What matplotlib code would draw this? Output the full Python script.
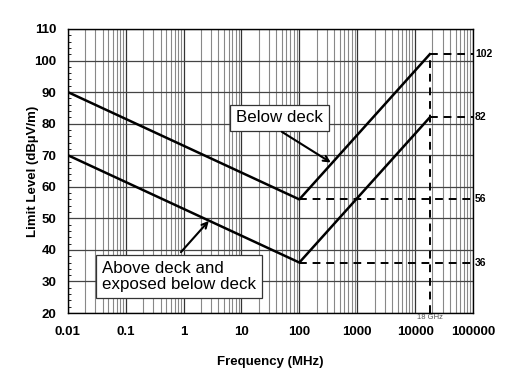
import numpy as np
import matplotlib.pyplot as plt
from matplotlib.ticker import FixedLocator, LogLocator, NullFormatter, MultipleLocator

plt.rcParams['font.family'] = ['Liberation Sans', 'DejaVu Sans']

freq = [0.01, 100, 18000]
below_deck = [90, 56, 102]
above_deck = [70, 36, 82]
end_labels = [102, 82, 56, 36]
x_ticks = [0.01, 0.1, 1, 10, 100, 1000, 10000, 100000]
x_labels = ["0.01", "0.1", "1", "10", "100", "1000", "10000", "100000"]
y_ticks = list(range(20, 111, 10))

fig = plt.figure(figsize=(5.22, 3.86), dpi=100)
ax = fig.add_axes([0.130, 0.189, 0.776, 0.736])

ax.set_xscale('log')
ax.set_xlim(0.01, 100000)
ax.set_ylim(20, 110)

ax.xaxis.set_major_locator(FixedLocator(x_ticks))
ax.set_xticklabels(x_labels)
ax.xaxis.set_minor_locator(LogLocator(base=10, subs=np.arange(2, 10)))
ax.xaxis.set_minor_formatter(NullFormatter())
ax.set_yticks(y_ticks)
ax.yaxis.set_minor_locator(MultipleLocator(2))

ax.grid(which='major', axis='x', color='#333333', lw=0.9)
ax.grid(which='minor', axis='x', color='#888888', lw=0.8)
ax.grid(which='major', axis='y', color='#444444', lw=0.9)
ax.tick_params(axis='x', which='both', length=0, pad=9)
ax.tick_params(axis='y', which='major', length=0, pad=8)
ax.tick_params(axis='y', which='minor', length=2, direction='in', left=True)
for lab in ax.get_xticklabels() + ax.get_yticklabels():
    lab.set_fontweight('bold')
    lab.set_fontsize(9.5)
for s in ax.spines.values():
    s.set_color('black')
    s.set_linewidth(1.0)

ax.plot(freq, below_deck, color='black', lw=1.8, zorder=5)
ax.plot(freq, above_deck, color='black', lw=1.8, zorder=5)

dash = dict(color='black', lw=1.4, ls=(0, (4, 3)), zorder=4)
ax.plot([freq[1], 100000], [below_deck[1]] * 2, **dash)
ax.plot([freq[1], 100000], [above_deck[1]] * 2, **dash)
ax.plot([freq[2], 100000], [below_deck[2]] * 2, **dash)
ax.plot([freq[2], 100000], [above_deck[2]] * 2, **dash)
ax.plot([freq[2], freq[2]], [20, below_deck[2]], **dash)

for v in end_labels:
    ax.text(1.005, (v - 20) / 90, str(v), transform=ax.transAxes,
            fontsize=7.5, fontweight='bold', va='center', ha='left')

ax.text(freq[2], 19.6, "18 GHz", fontsize=5.5, color='#555555', ha='center', va='top')

box = dict(boxstyle='square,pad=0.35', fc='white', ec='#333333', lw=0.9)
arrow = dict(arrowstyle='->', color='black', lw=1.5, shrinkA=0, shrinkB=0,
             mutation_scale=10)
ax.annotate("Below deck", xy=(350, 67.7), xytext=(46, 81.8),
            fontsize=12.2, ha='center', va='center', bbox=box, zorder=6)
ax.annotate("", xy=(350, 67.7), xytext=(50, 77.4), arrowprops=arrow, zorder=6)
ax.annotate("Above deck and\nexposed below deck", xy=(2.73, 49.2), xytext=(0.84, 31.7),
            fontsize=12.2, ha='center', va='center', multialignment='left',
            bbox=box, zorder=6, linespacing=1.1)
ax.annotate("", xy=(2.73, 49.2), xytext=(0.90, 39.3), arrowprops=arrow, zorder=6)

ax.set_xlabel("Frequency (MHz)", fontsize=9.5, fontweight='bold', labelpad=13)
ax.set_ylabel("Limit Level (dBµV/m)", fontsize=9.5, fontweight='bold')
ax.yaxis.set_label_coords(-0.072, 0.5)

fig.savefig("out.png", dpi=100)
